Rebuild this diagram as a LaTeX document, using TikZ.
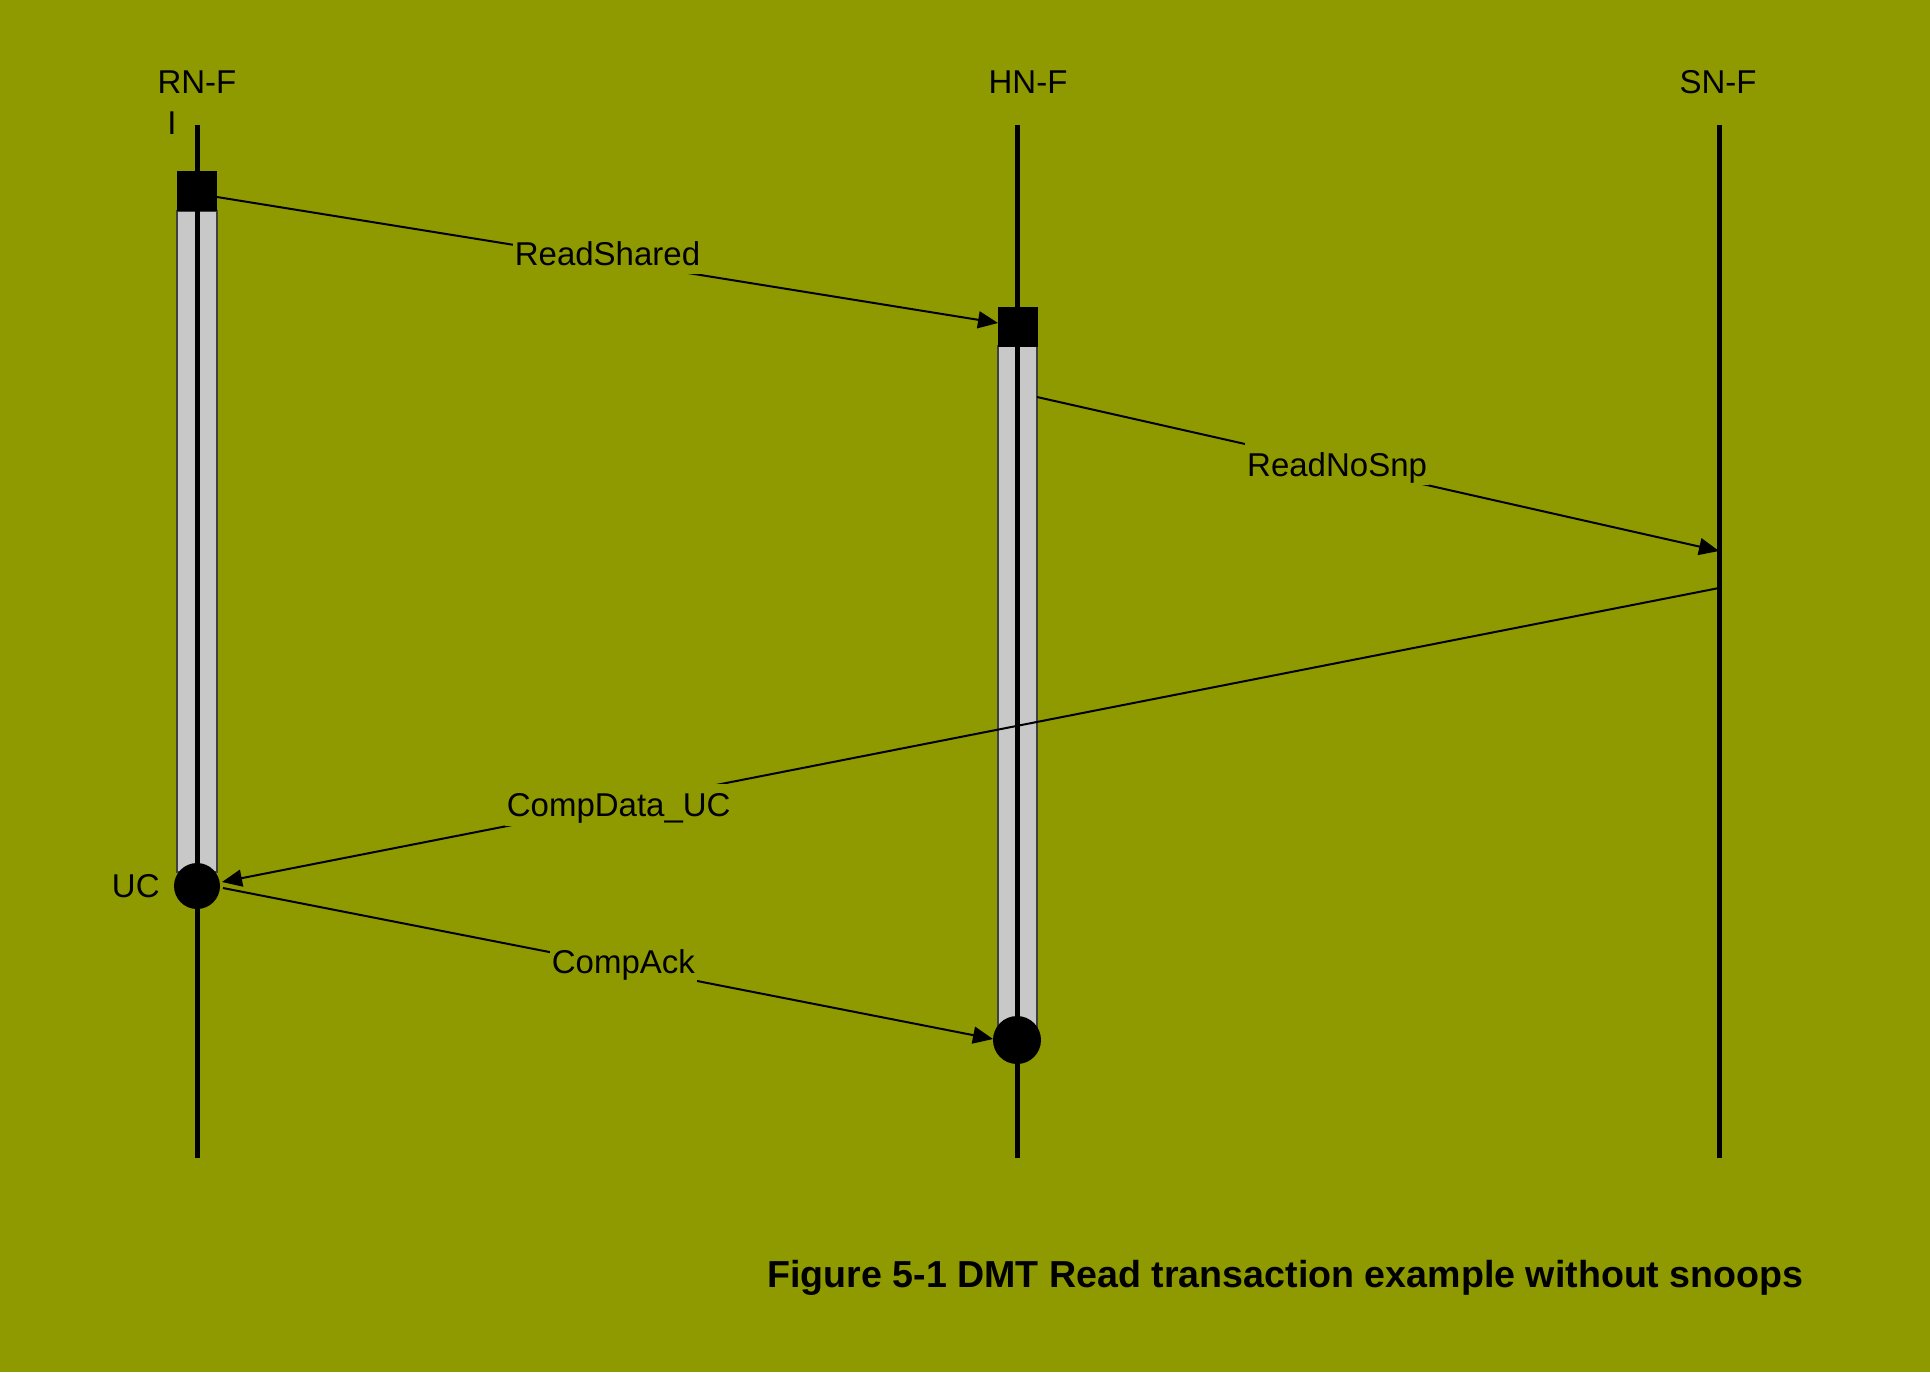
\documentclass[tikz,border=0pt]{standalone}
\usepackage{fontspec}
\setmainfont{Liberation Sans}
\usetikzlibrary{arrows.meta}
\definecolor{bg}{RGB}{143,153,0}
\definecolor{bargrey}{RGB}{200,200,200}
\begin{document}
\begin{tikzpicture}[x=0.5pt,y=-0.5pt,
  lifeline/.style={line width=2.5pt},
  actbar/.style={draw=black!75,line width=0.7pt,fill=bargrey},
  sqbox/.style={fill=black,draw=none,minimum width=20pt,minimum height=20pt,inner sep=0pt},
  dot/.style={circle,fill=black,draw=none,inner sep=0pt},
  msg/.style={line width=1pt,-{Triangle[length=10pt,width=8.5pt]}},
  lbl/.style={fill=bg,inner xsep=1pt,inner ysep=4.5pt,text height=12pt,text depth=0pt,font=\fontsize{16.5}{19}\selectfont},
  head/.style={font=\fontsize{16.5}{19}\selectfont,inner sep=0pt}]
\fill[bg] (0,0) rectangle (1930,1372);
\useasboundingbox (0,0) rectangle (1930,1372);
% heads
\node[head] (rnf) at (197,82) {RN-F};
\node[head] (rnfi) at (172,123) {I};
\node[head] (hnf) at (1028,82) {HN-F};
\node[head] (snf) at (1718,82) {SN-F};
% lifeline ends
\coordinate (rtop) at (197,125); \coordinate (rbot) at (197,1158);
\coordinate (htop) at (1017,125); \coordinate (hbot) at (1017,1158);
\coordinate (stop) at (1719,125); \coordinate (sbot) at (1719,1158);
% activation bars
\draw[actbar] (177,211) rectangle (217,872);
\draw[actbar] (998,346) rectangle (1037,1040);
% lifelines
\draw[lifeline] (rtop) -- (rbot);
\draw[lifeline] (htop) -- (hbot);
\draw[lifeline] (stop) -- (sbot);
% squares and dots
\node[sqbox] (rsq) at (197,191) {};
\node[sqbox] (hsq) at (1017.5,326.5) {};
\node[dot,minimum size=23pt] (uc) at (197,886) {};
\node[dot,minimum size=24pt] (hdot) at (1017,1040) {};
\node[head,anchor=east] (uclbl) at (160,886) {UC};
% message points
\coordinate (s1) at (217,197); \coordinate (e1) at (998,323);
\coordinate (s2) at (1037,397); \coordinate (e2) at (1719,551);
\coordinate (s3) at (1719,588); \coordinate (e3) at (222,882);
\coordinate (s4) at (223,888); \coordinate (e4) at (993,1039);
% messages
\draw[msg] (s1) -- node[lbl,pos=0.5,yshift=3.5pt] (l1) {ReadShared} (e1);
\draw[msg] (s2) -- node[lbl,pos=0.44,yshift=0.2pt] (l2) {ReadNoSnp} (e2);
\draw[msg] (s3) -- node[lbl,pos=0.735,yshift=-0.2pt] (l3) {CompData\_UC} (e3);
\draw[msg] (s4) -- node[lbl,pos=0.52,yshift=2.3pt] (l4) {CompAck} (e4);
% caption
\node[anchor=west,inner sep=0pt,font=\bfseries\fontsize{18.8}{22}\selectfont] (cap) at (767,1278) {Figure 5-1 DMT Read transaction example without snoops};
\end{tikzpicture}
\end{document}
